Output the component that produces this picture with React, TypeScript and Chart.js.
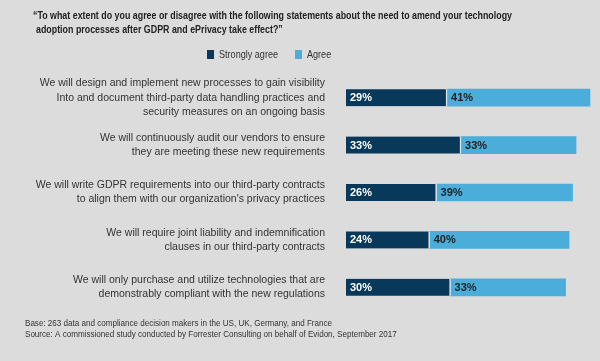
import React, { useEffect, useRef } from "react";
import { Chart, registerables } from "chart.js";
Chart.register(...registerables);

const titleLines = [
  "\u201CTo what extent do you agree or disagree with the following statements about the need to amend your technology",
  "adoption processes after GDPR and ePrivacy take effect?\u201D",
];
const categories: string[][] = [
  ["We will design and implement new processes to gain visibility", "Into and document third-party data handling practices and", "security measures on an ongoing basis"],
  ["We will continuously audit our vendors to ensure", "they are meeting these new requirements"],
  ["We will write GDPR requirements into our third-party contracts", "to align them with our organization's privacy practices"],
  ["We will require joint liability and indemnification", "clauses in our third-party contracts"],
  ["We will only purchase and utilize technologies that are", "demonstrably compliant with the new regulations"],
];
const seriesNames = ["Strongly agree", "Agree"];
const stronglyAgree = [29, 33, 26, 24, 30];
const agree = [41, 33, 39, 40, 33];
const footerLines = [
  "Base: 263 data and compliance decision makers in the US, UK, Germany, and France",
  "Source: A commissioned study conducted by Forrester Consulting on behalf of Evidon, September 2017",
];

const DARK = "#08385a";
const LIGHT = "#4badd9";
const BG = "#dcdcdc";
const FONT = "'Liberation Sans', Arial, sans-serif";

// draw text at given font, squeezed horizontally by factor sx
function drawSqueezed(c: CanvasRenderingContext2D, text: string, x: number, y: number, sx: number) {
  c.save();
  c.translate(x, y);
  c.scale(sx, 1);
  c.fillText(text, 0, 0);
  c.restore();
}

export default function App() {
  const ref = useRef<HTMLCanvasElement>(null);
  useEffect(() => {
    document.body.style.margin = "0";
    const canvas = ref.current!;
    const decor = {
      id: "decor",
      beforeDraw(chart: any) {
        const c = chart.ctx;
        c.save();
        c.fillStyle = BG;
        c.fillRect(0, 0, chart.width, chart.height);
        c.restore();
      },
      afterDraw(chart: any) {
        const c = chart.ctx;
        c.save();
        c.textBaseline = "middle";
        c.textAlign = "left";
        // title
        c.fillStyle = "#222";
        c.font = `bold 11.5px ${FONT}`;
        const tsx = 479 / c.measureText(titleLines[0]).width;
        drawSqueezed(c, titleLines[0], 33, 16, tsx);
        drawSqueezed(c, titleLines[1], 36, 30, tsx);
        // legend
        c.font = `11.5px ${FONT}`;
        const lsx = 59 / c.measureText(seriesNames[0]).width;
        const colors = [DARK, LIGHT];
        let x = 207;
        seriesNames.forEach((n, i) => {
          c.fillStyle = colors[i];
          c.fillRect(x, 50, 7, 9);
          c.fillStyle = "#333";
          drawSqueezed(c, n, x + 12, 55, lsx);
          x += 12 + c.measureText(n).width * lsx + 17;
        });
        // value labels
        c.font = `bold 11px ${FONT}`;
        chart.data.datasets.forEach((ds: any, di: number) => {
          const meta = chart.getDatasetMeta(di);
          meta.data.forEach((bar: any, i: number) => {
            const left = Math.min(bar.x, bar.base);
            c.fillStyle = di === 0 ? "#fff" : "#222";
            c.fillText(ds.data[i] + "%", left + 4, bar.y + 0.5);
          });
        });
        // footer
        c.fillStyle = "#333";
        c.font = `9.5px ${FONT}`;
        const fsx = 307 / c.measureText(footerLines[0]).width;
        drawSqueezed(c, footerLines[0], 25, 323, fsx);
        drawSqueezed(c, footerLines[1], 25, 334, fsx);
        c.restore();
      },
    };
    const chart = new Chart(canvas, {
      type: "bar",
      data: {
        labels: categories,
        datasets: [
          {
            label: seriesNames[0],
            data: stronglyAgree,
            backgroundColor: DARK,
            borderColor: "#dde4e8",
            borderWidth: { left: 0, top: 0, bottom: 0, right: 1.5 },
            borderSkipped: false,
            barThickness: 17,
          },
          {
            label: seriesNames[1],
            data: agree,
            backgroundColor: LIGHT,
            borderWidth: 0,
            barThickness: 17,
          },
        ],
      },
      options: {
        indexAxis: "y",
        animation: false,
        responsive: false,
        layout: { padding: { top: 74, bottom: 50, right: 2, left: 0 } },
        plugins: { legend: { display: false }, title: { display: false }, tooltip: { enabled: false } },
        scales: {
          x: { stacked: true, display: false, min: 0, max: 72.3 },
          y: {
            stacked: true,
            grid: { display: false, drawTicks: false },
            border: { display: false },
            afterFit: (s: any) => { s.width = 346; },
            ticks: {
              padding: 21,
              color: "#333",
              font: { family: FONT, size: 10.5, lineHeight: 1.35 },
            },
          },
        },
      },
      plugins: [decor],
    });
    return () => chart.destroy();
  }, []);
  return <canvas ref={ref} width={600} height={361} style={{ display: "block" }} />;
}
